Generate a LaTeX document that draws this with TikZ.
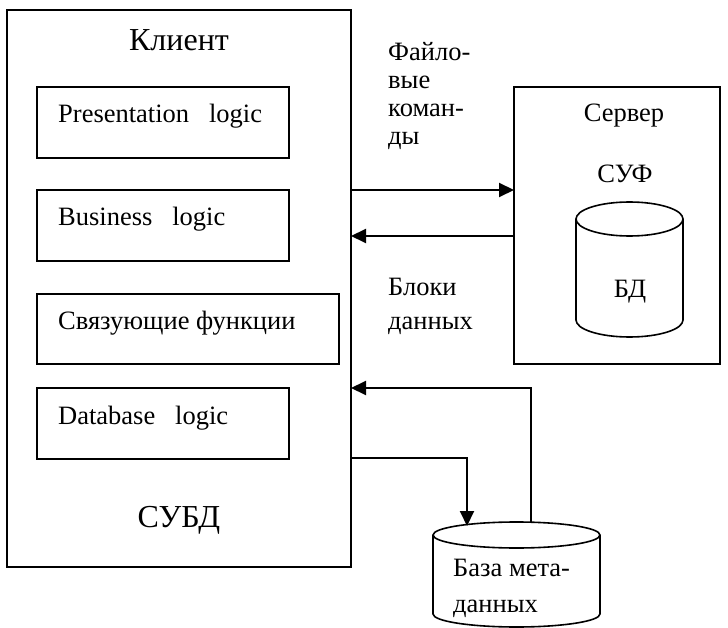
\documentclass[tikz,border=0pt]{standalone}
\usepackage{fontspec}
\setmainfont{Liberation Serif}
\usetikzlibrary{arrows.meta}
\begin{document}
\begin{tikzpicture}[x=1pt,y=-1pt,
  frame/.style={draw, line width=1.6pt, inner sep=0pt, outer sep=0pt},
  txt/.style={inner sep=0pt, anchor=base west, font=\fontsize{26.5}{30}\selectfont},
  ctxt/.style={inner sep=0pt, anchor=base, font=\fontsize{26.5}{30}\selectfont},
  bigtxt/.style={inner sep=0pt, anchor=base, font=\fontsize{32}{36}\selectfont},
  arr/.style={line width=2pt, -{Triangle[length=15pt,width=14pt]}},
  cyl/.style={line width=1.6pt}]
\useasboundingbox (0,0) rectangle (728,628);

% client side
\node[frame, minimum width=344pt, minimum height=557pt] (client) at (179,288.5) {};
\node[bigtxt] (klient) at (179,51) {Клиент};
\node[bigtxt] (subd) at (179,527) {СУБД};

\node[frame, anchor=north west, minimum width=252pt, minimum height=71pt] (pres) at (37,87) {};
\node[txt] (prestext) at (58,123) {Presentation\ \ \ logic};
\node[frame, anchor=north west, minimum width=252pt, minimum height=71pt] (bus) at (37,190) {};
\node[txt] (bustext) at (58,226) {Business\ \ \ logic};
\node[frame, anchor=north west, minimum width=302pt, minimum height=70pt] (link) at (37,294) {};
\node[txt] (linktext) at (58,330) {Связующие функции};
\node[frame, anchor=north west, minimum width=252pt, minimum height=71pt] (dbl) at (37,388) {};
\node[txt] (dbltext) at (58,424) {Database\ \ \ logic};

% server side
\node[frame, anchor=north west, minimum width=206pt, minimum height=277pt] (server) at (514,87) {};
\node[ctxt] (servtext) at (624,122) {Сервер};
\node[ctxt] (suf) at (625,183) {СУФ};

% database cylinder inside the server
\draw[cyl] (629.5,219) ellipse [x radius=53.5pt, y radius=17pt];
\draw[cyl] (576,219) -- (576,320) arc[start angle=180, end angle=360, x radius=53.5pt, y radius=17pt] -- (683,219);
\node[ctxt] (bd) at (630,298) {БД};

% metadata cylinder
\draw[cyl] (516.5,535) ellipse [x radius=83.5pt, y radius=13pt];
\draw[cyl] (433,535) -- (433,614) arc[start angle=180, end angle=360, x radius=83.5pt, y radius=13pt] -- (600,535);
\node[txt] (meta1) at (453,576) {База мета-};
\node[txt] (meta2) at (453,612) {данных};
\coordinate (metain) at (467,526);
\coordinate (metaout) at (531,522.5);

% labels between client and server
\node[txt] (f1) at (388,61) {Файло-};
\node[txt] (f2) at (388,89) {вые};
\node[txt] (f3) at (388,117) {коман-};
\node[txt] (f4) at (388,145) {ды};
\node[txt] (b1) at (388,295) {Блоки};
\node[txt] (b2) at (388,330) {данных};

% connector levels
\coordinate (ycmd) at (0,190);
\coordinate (yblk) at (0,236);
\coordinate (yret) at (0,388);
\coordinate (ydown) at (0,458);

% connectors
\draw[arr] (client.east |- ycmd) -- (server.west |- ycmd);
\draw[arr] (server.west |- yblk) -- (client.east |- yblk);
\draw[arr] (metaout) -- (metaout |- yret) -- (client.east |- yret);
\draw[arr] (client.east |- ydown) -- (metain |- ydown) -- (metain);
\end{tikzpicture}
\end{document}
